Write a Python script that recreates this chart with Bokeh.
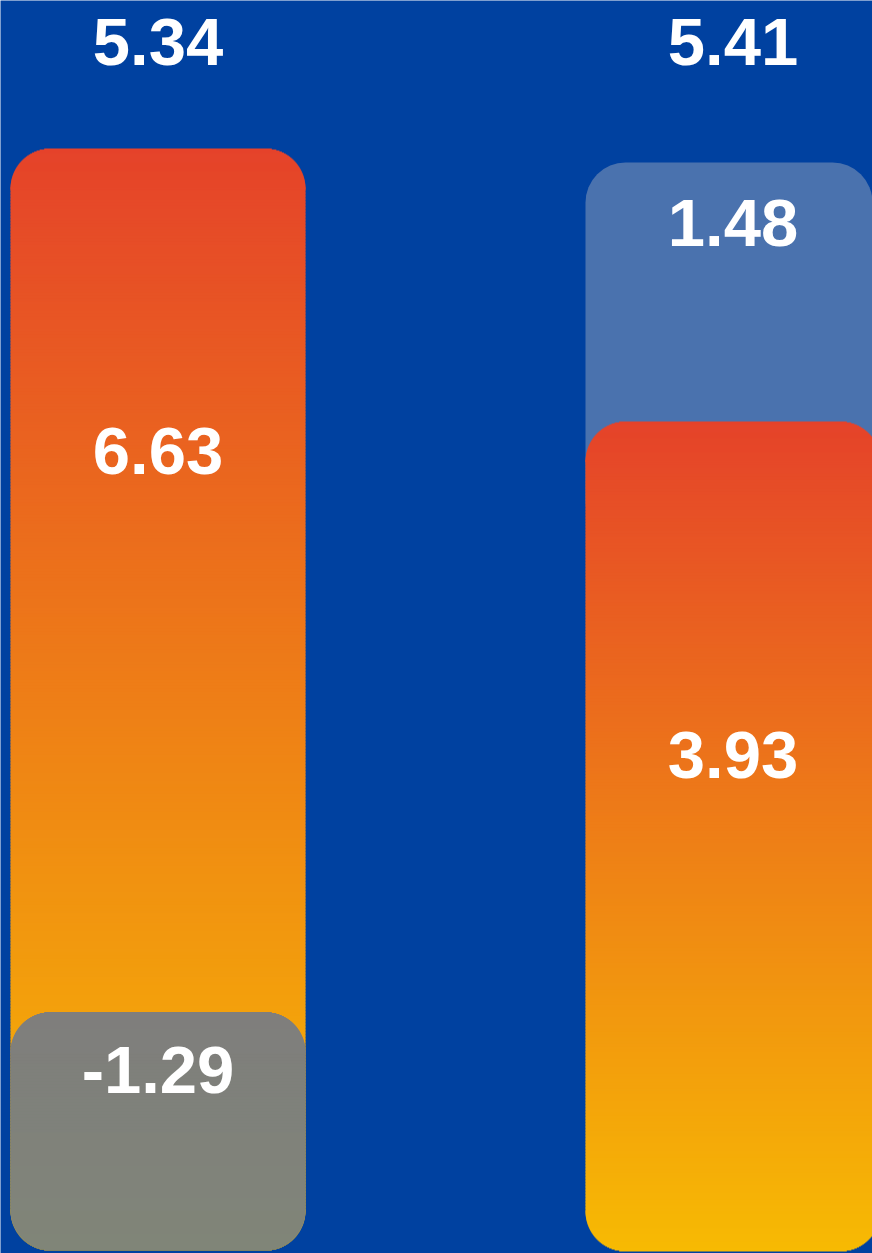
import numpy as np
from bokeh.plotting import figure
from bokeh.models import Range1d, ColumnDataSource
from bokeh.embed import file_html
from bokeh.resources import INLINE
from bokeh.core.properties import value

# ---------------- data ----------------
bar_index = [0, 1]
main_values = [6.63, 3.93]        # gradient segments
adjust_values = [-1.29, 1.48]     # grey (left) / light blue (right)
totals = [5.34, 5.41]
main_labels = ["6.63", "3.93"]
adjust_labels = ["-1.29", "1.48"]
total_labels = ["5.34", "5.41"]

# ---------------- style / layout ----------------
W, H = 872, 1253
BG = "#0041A0"
RED = (229, 67, 42)
YELLOW = (247, 186, 3)
GREY_TOP = (127, 126, 124)
GREY_BOTTOM = (128, 133, 121)
LIGHT_BLUE = "#4A72AE"
RADIUS = 40
BAR_PX = 295
CENTER_PX = [157.5, 732.5]
BOTTOM_PX = [1250, 1251]
TOP_PX = [148, 162]
OVERLAP_PX = [24, 39]
MAIN_LABEL_OFFSET = [302.5, 333.5]
ADJ_LABEL_OFFSET = [57.5, 60.5]
TOTAL_BASELINE = 41.5
FONT = value("Liberation Sans")
FONT_SIZE = "67px"
MID_STRIP_PX = 3

unit = CENTER_PX[1] - CENTER_PX[0]
x_start = -CENTER_PX[0] / unit
bar_w = BAR_PX / unit

p = figure(width=W, height=H, output_backend="svg", toolbar_location=None,
           x_axis_location=None, y_axis_location=None,
           x_range=Range1d(x_start, x_start + W / unit), y_range=Range1d(0, 1),
           min_border=0, background_fill_color=BG, border_fill_color=BG,
           outline_line_color=None)
p.grid.visible = False

dpp = []
for i in bar_index:
    top_val = max(main_values[i], main_values[i] + adjust_values[i])
    d = top_val / (BOTTOM_PX[i] - TOP_PX[i])
    dpp.append(d)
    p.extra_y_ranges[f"b{i}"] = Range1d(-(H - BOTTOM_PX[i]) * d, top_val + TOP_PX[i] * d)


def rgb_hex(c):
    c = np.clip(np.round(np.asarray(c, dtype=float)), 0, 255).astype(int)
    return "#%02x%02x%02x" % tuple(c)


def rounded_gradient(xi, bottom, top, rn, d, c_bottom, c_top):
    """Vertical gradient bar with rounded corners, built from horizontal strips."""
    cb, ct = np.array(c_bottom, float), np.array(c_top, float)
    span = top - bottom

    def col(y):
        t = (y - bottom) / span
        return rgb_hex(cb + (ct - cb) * t)

    def inset(j):
        h = RADIUS - (j + 0.5)
        return RADIUS - np.sqrt(max(RADIUS ** 2 - h ** 2, 0.0))

    xs, bs, ts, ws, cs = [], [], [], [], []
    # bottom corner rows, drawn bottom-up, each extends 1px upward
    for j in range(RADIUS):
        b = bottom + j * d
        xs.append(xi); bs.append(b); ts.append(b + 2 * d)
        ws.append((BAR_PX - 2 * inset(j)) / unit); cs.append(col(b + 0.5 * d))
    # middle strips
    edges = np.arange(bottom + RADIUS * d, top - RADIUS * d, MID_STRIP_PX * d)
    edges = np.append(edges, top - RADIUS * d)
    for k in range(len(edges) - 1):
        b, t = edges[k], edges[k + 1]
        xs.append(xi); bs.append(b); ts.append(t + d)
        ws.append(bar_w); cs.append(col((b + t) / 2))
    # top corner rows, drawn top-down, each extends 1px downward
    for j in range(RADIUS):
        t = top - j * d
        xs.append(xi); bs.append(t - 2 * d); ts.append(t)
        ws.append((BAR_PX - 2 * inset(j)) / unit); cs.append(col(t - 0.5 * d))
    src = ColumnDataSource(dict(x=xs, b=bs, t=ts, w=ws, c=cs))
    p.vbar(x="x", bottom="b", top="t", width="w", fill_color="c", line_color=None,
           source=src, y_range_name=rn)


def label(xi, y, txt, rn, off):
    p.text(x=[xi], y=[y], text=[txt], y_range_name=rn, y_offset=off,
           text_font=FONT, text_font_style="bold", text_font_size=FONT_SIZE,
           text_color="white", text_align="center", text_baseline="alphabetic")


for i in bar_index:
    rn = f"b{i}"
    d = dpp[i]
    mv, av = main_values[i], adjust_values[i]
    ov = OVERLAP_PX[i] * d
    if av < 0:
        main_top = mv
        rounded_gradient(i, 0, main_top, rn, d, YELLOW, RED)
        adj_top = abs(av) + ov
        rounded_gradient(i, 0, adj_top, rn, d, GREY_BOTTOM, GREY_TOP)
    else:
        adj_top = mv + av
        p.vbar(x=[i], bottom=[mv - 2 * RADIUS * d], top=[adj_top], width=bar_w,
               fill_color=LIGHT_BLUE, line_color=None, y_range_name=rn, border_radius=RADIUS)
        main_top = mv + ov
        rounded_gradient(i, 0, main_top, rn, d, YELLOW, RED)
    label(i, main_top, main_labels[i], rn, MAIN_LABEL_OFFSET[i])
    label(i, adj_top, adjust_labels[i], rn, ADJ_LABEL_OFFSET[i])
    label(i, p.extra_y_ranges[rn].end, total_labels[i], rn, TOTAL_BASELINE)

open("out.html", "w").write(file_html(p, INLINE))
